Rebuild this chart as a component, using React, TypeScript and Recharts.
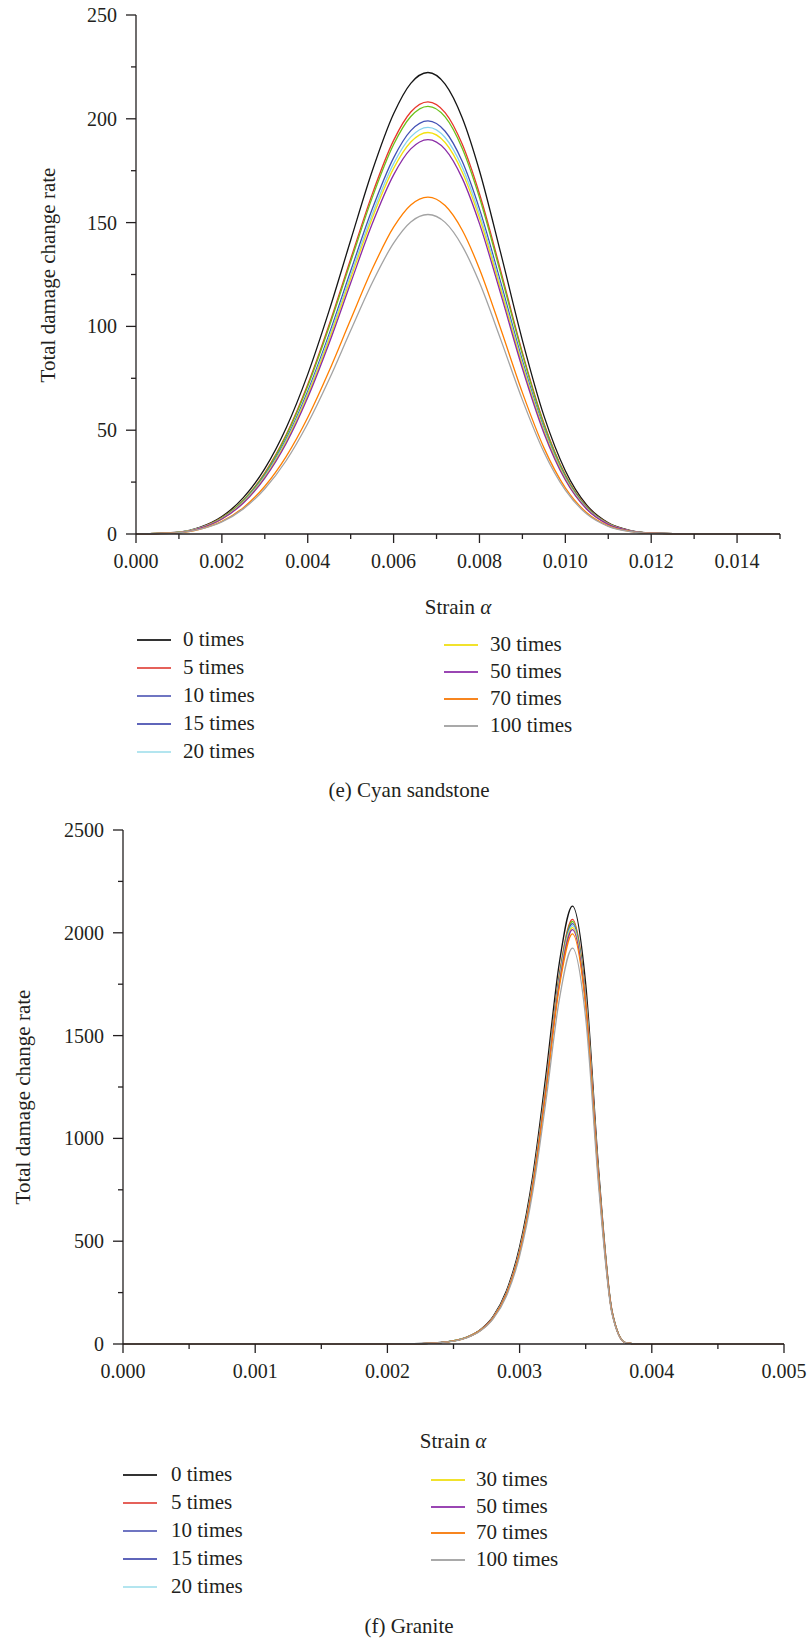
import { Line, LineChart, XAxis, YAxis } from "recharts";

const FONT = "Liberation Serif, DejaVu Serif, Times New Roman, serif";
const INK = "#231f20";

const seriesNames = ["0 times", "5 times", "10 times", "15 times", "20 times", "30 times", "50 times", "70 times", "100 times"];
const lineColors = ["#151515", "#e8372c", "#6cc11a", "#4250b5", "#86d3ee", "#f3e10f", "#8a2ca6", "#ff7f00", "#a3a3a3"];
const legendColors = ["#333333", "#e5615a", "#6f75c2", "#5f65ba", "#b3e5ef", "#f1e22c", "#9a46b3", "#f7851f", "#a9a9a9"];

// (e) Cyan sandstone
const sandStrain = [0, 0.001, 0.0015, 0.002, 0.0025, 0.003, 0.0035, 0.004, 0.0045, 0.005, 0.0055, 0.006, 0.0064, 0.0068, 0.0072, 0.0076, 0.008, 0.0085, 0.009, 0.0095, 0.01, 0.0105, 0.011, 0.0115, 0.012, 0.013, 0.015];
const sand0 = [0, 0.9, 3.3, 8.4, 17.5, 31.5, 51.2, 76.9, 107.7, 141.5, 174.7, 202.4, 217.1, 222.3, 216.7, 200.4, 175.0, 134.9, 93.3, 57.0, 30.5, 13.9, 5.4, 1.8, 0.5, 0, 0];
const sand5 = [0, 0.8, 3.1, 7.9, 16.3, 29.5, 47.9, 72.0, 100.9, 132.5, 163.6, 189.6, 203.3, 208.2, 203.0, 187.7, 163.9, 126.4, 87.4, 53.4, 28.5, 13.1, 5.1, 1.6, 0.4, 0, 0];
const sand10 = [0, 0.8, 3.0, 7.8, 16.2, 29.1, 47.4, 71.2, 99.8, 131.1, 161.9, 187.6, 201.1, 206.0, 200.9, 185.7, 162.1, 125.0, 86.5, 52.8, 28.2, 12.9, 5.0, 1.6, 0.4, 0, 0];
const sand15 = [0, 0.8, 2.9, 7.5, 15.6, 28.2, 45.8, 68.8, 96.4, 126.7, 156.4, 181.2, 194.3, 199.0, 194.0, 179.4, 156.6, 120.8, 83.5, 51.0, 27.3, 12.5, 4.8, 1.6, 0.4, 0, 0];
const sand20 = [0, 0.8, 2.9, 7.4, 15.4, 27.7, 45.1, 67.7, 94.9, 124.7, 153.9, 178.4, 191.3, 195.9, 191.0, 176.6, 154.2, 118.9, 82.2, 50.2, 26.8, 12.3, 4.8, 1.5, 0.4, 0, 0];
const sand30 = [0, 0.8, 2.8, 7.3, 15.2, 27.4, 44.5, 66.9, 93.7, 123.1, 152.0, 176.1, 188.8, 193.4, 188.6, 174.3, 152.2, 117.4, 81.2, 49.6, 26.5, 12.1, 4.7, 1.5, 0.4, 0, 0];
const sand50 = [0, 0.7, 2.8, 7.2, 14.9, 26.9, 43.7, 65.7, 92.0, 120.9, 149.3, 173.0, 185.5, 190.0, 185.3, 171.3, 149.5, 115.3, 79.7, 48.7, 26.0, 11.9, 4.6, 1.5, 0.4, 0, 0];
const sand70 = [0, 0.6, 2.4, 6.1, 12.7, 23.0, 37.4, 56.1, 78.6, 103.3, 127.5, 147.8, 158.5, 162.3, 158.2, 146.3, 127.7, 98.5, 68.1, 41.6, 22.2, 10.2, 3.9, 1.3, 0.3, 0, 0];
const sand100 = [0, 0.6, 2.3, 5.8, 12.1, 21.8, 35.4, 53.2, 74.5, 98.0, 120.9, 140.1, 150.3, 153.9, 150.1, 138.7, 121.1, 93.4, 64.6, 39.5, 21.1, 9.6, 3.7, 1.2, 0.3, 0, 0];
const sandXTicks = [0, 0.001, 0.002, 0.003, 0.004, 0.005, 0.006, 0.007, 0.008, 0.009, 0.01, 0.011, 0.012, 0.013, 0.014, 0.015];
const sandYTicks = [0, 25, 50, 75, 100, 125, 150, 175, 200, 225, 250];

// (f) Granite
const graniteStrain = [0, 0.001, 0.002, 0.0022, 0.0024, 0.0026, 0.0027, 0.0028, 0.0029, 0.003, 0.0031, 0.0032, 0.0033, 0.0034, 0.0035, 0.0036, 0.0037, 0.0038, 0.0039, 0.004, 0.005];
const gran0 = [0, 0, 0.2, 1.4, 7.4, 33.5, 68.4, 134.8, 257.5, 472.4, 819.4, 1312.7, 1851.6, 2130, 1751.9, 828.6, 158.9, 7.0, 0, 0, 0];
const gran5 = [0, 0, 0.2, 1.4, 7.1, 32.5, 66.3, 130.7, 249.7, 458.0, 794.4, 1272.7, 1795.1, 2065, 1698.5, 803.3, 154.0, 6.8, 0, 0, 0];
const gran10 = [0, 0, 0.2, 1.4, 7.1, 32.3, 66.0, 130.1, 248.5, 455.8, 790.6, 1266.5, 1786.4, 2055, 1690.2, 799.4, 153.3, 6.8, 0, 0, 0];
const gran15 = [0, 0, 0.2, 1.3, 7.1, 32.2, 65.6, 129.4, 247.2, 453.6, 786.7, 1260.3, 1777.7, 2045, 1682.0, 795.5, 152.6, 6.7, 0, 0, 0];
const gran20 = [0, 0, 0.2, 1.3, 7.0, 32.0, 65.3, 128.8, 246.0, 451.4, 782.9, 1254.2, 1769.0, 2035, 1673.8, 791.6, 151.8, 6.7, 0, 0, 0];
const gran30 = [0, 0, 0.2, 1.3, 7.0, 31.9, 65.0, 128.2, 244.8, 449.1, 779.0, 1248.0, 1760.3, 2025, 1665.6, 787.7, 151.1, 6.7, 0, 0, 0];
const gran50 = [0, 0, 0.2, 1.3, 7.0, 31.7, 64.7, 127.5, 243.6, 446.9, 775.2, 1241.8, 1751.6, 2015, 1657.3, 783.8, 150.3, 6.6, 0, 0, 0];
const gran70 = [0, 0, 0.2, 1.3, 6.9, 31.4, 64.0, 126.3, 241.2, 442.5, 767.5, 1229.5, 1734.3, 1995, 1640.9, 776.1, 148.8, 6.6, 0, 0, 0];
const gran100 = [0, 0, 0.2, 1.3, 6.7, 30.3, 61.8, 121.9, 232.7, 427.0, 740.6, 1186.4, 1673.4, 1925, 1583.3, 748.8, 143.6, 6.4, 0, 0, 0];
const granXTicks = [0, 0.0005, 0.001, 0.0015, 0.002, 0.0025, 0.003, 0.0035, 0.004, 0.0045, 0.005];
const granYTicks = [0, 250, 500, 750, 1000, 1250, 1500, 1750, 2000, 2250, 2500];

function buildRows(xs: number[], series: number[][]) {
  return xs.map((x, i) => {
    const row: Record<string, number> = { x };
    series.forEach((s, k) => (row["s" + k] = s[i]));
    return row;
  });
}

const sandRows = buildRows(sandStrain, [sand0, sand5, sand10, sand15, sand20, sand30, sand50, sand70, sand100]);
const graniteRows = buildRows(graniteStrain, [gran0, gran5, gran10, gran15, gran20, gran30, gran50, gran70, gran100]);

const xTick = (isMajor: (v: number) => boolean) => (p: any) => {
  const v = p.payload.value;
  const major = isMajor(v);
  return (
    <g>
      <line x1={p.x} x2={p.x} y1={p.y} y2={p.y + (major ? 9 : 5)} stroke={INK} strokeWidth={1.3} />
      {major && (
        <text x={p.x} y={p.y + 34} textAnchor="middle" fontSize={20} fill={INK} style={{ fontFamily: FONT }}>
          {v.toFixed(3)}
        </text>
      )}
    </g>
  );
};

const yTick = (isMajor: (v: number) => boolean) => (p: any) => {
  const v = p.payload.value;
  const major = isMajor(v);
  return (
    <g>
      <line x1={p.x - (major ? 10 : 5)} x2={p.x} y1={p.y} y2={p.y} stroke={INK} strokeWidth={1.3} />
      {major && (
        <text x={p.x - 19} y={p.y} dy="0.35em" textAnchor="end" fontSize={20} fill={INK} style={{ fontFamily: FONT }}>
          {v}
        </text>
      )}
    </g>
  );
};

function Panel(props: {
  top: number;
  rows: Record<string, number>[];
  xDomain: [number, number];
  xTicks: number[];
  yDomain: [number, number];
  yTicks: number[];
  xMajor: (v: number) => boolean;
  yMajor: (v: number) => boolean;
  yAxisWidth: number;
  margin: { top: number; right: number; bottom: number; left: number };
}) {
  return (
    <div style={{ position: "absolute", left: 0, top: props.top }}>
      <LineChart width={809} height={600} data={props.rows} margin={props.margin}>
        <XAxis
          dataKey="x"
          type="number"
          domain={props.xDomain}
          ticks={props.xTicks}
          interval={0}
          height={50}
          tickSize={0}
          tickMargin={0}
          tickLine={false}
          axisLine={{ stroke: INK, strokeWidth: 1.3 }}
          tick={xTick(props.xMajor)}
        />
        <YAxis
          type="number"
          domain={props.yDomain}
          ticks={props.yTicks}
          interval={0}
          width={props.yAxisWidth}
          tickSize={0}
          tickMargin={0}
          tickLine={false}
          axisLine={{ stroke: INK, strokeWidth: 1.3 }}
          tick={yTick(props.yMajor)}
        />
        {seriesNames.map((name, k) => (
          <Line
            key={name}
            name={name}
            dataKey={"s" + k}
            type="monotone"
            stroke={lineColors[k]}
            strokeWidth={1.3}
            dot={false}
            isAnimationActive={false}
          />
        ))}
      </LineChart>
    </div>
  );
}

const textStyle = { position: "absolute" as const, fontFamily: FONT, fontSize: 21, lineHeight: "21px", color: INK, whiteSpace: "nowrap" as const };

function LegendBlock(props: { lineX: number; textX: number; rows: number[]; start: number }) {
  return (
    <>
      {props.rows.map((cy, i) => {
        const k = props.start + i;
        return (
          <div key={k}>
            <div style={{ position: "absolute", left: props.lineX, top: cy - 1, width: 34, height: 2, background: legendColors[k] }} />
            <div style={{ ...textStyle, left: props.textX, top: cy - 11 }}>{seriesNames[k]}</div>
          </div>
        );
      })}
    </>
  );
}

function Centered(props: { x: number; y: number; rotate?: boolean; children: any }) {
  return (
    <div
      style={{
        ...textStyle,
        left: props.x,
        top: props.y,
        transform: `translate(-50%, -50%)${props.rotate ? " rotate(-90deg)" : ""}`,
      }}
    >
      {props.children}
    </div>
  );
}

export default function App() {
  return (
    <div style={{ position: "absolute", left: 0, top: 0, width: 809, height: 1641, background: "#fff", overflow: "hidden", fontFamily: FONT }}>
      <Panel
        top={0}
        rows={sandRows}
        xDomain={[0, 0.015]}
        xTicks={sandXTicks}
        yDomain={[0, 250]}
        yTicks={sandYTicks}
        xMajor={(v) => Math.round(v * 1000) % 2 === 0}
        yMajor={(v) => v % 50 === 0}
        yAxisWidth={136}
        margin={{ top: 15, right: 29, bottom: 16, left: 0 }}
      />
      <Centered x={48} y={275} rotate>Total damage change rate</Centered>
      <Centered x={458} y={607}>
        Strain <i>α</i>
      </Centered>
      <LegendBlock lineX={137} textX={183} rows={[640, 668, 696, 724, 752]} start={0} />
      <LegendBlock lineX={444} textX={490} rows={[645, 672, 699, 726]} start={5} />
      <Centered x={409} y={790}>(e) Cyan sandstone</Centered>

      <Panel
        top={800}
        rows={graniteRows}
        xDomain={[0, 0.005]}
        xTicks={granXTicks}
        yDomain={[0, 2500]}
        yTicks={granYTicks}
        xMajor={(v) => Math.round(v * 10000) % 10 === 0}
        yMajor={(v) => v % 500 === 0}
        yAxisWidth={123}
        margin={{ top: 30, right: 25, bottom: 6, left: 0 }}
      />
      <Centered x={23} y={1097} rotate>Total damage change rate</Centered>
      <Centered x={453} y={1441}>
        Strain <i>α</i>
      </Centered>
      <LegendBlock lineX={123} textX={171} rows={[1475, 1503, 1531, 1559, 1587]} start={0} />
      <LegendBlock lineX={431} textX={476} rows={[1480, 1507, 1533, 1560]} start={5} />
      <Centered x={409} y={1626}>(f) Granite</Centered>
    </div>
  );
}
